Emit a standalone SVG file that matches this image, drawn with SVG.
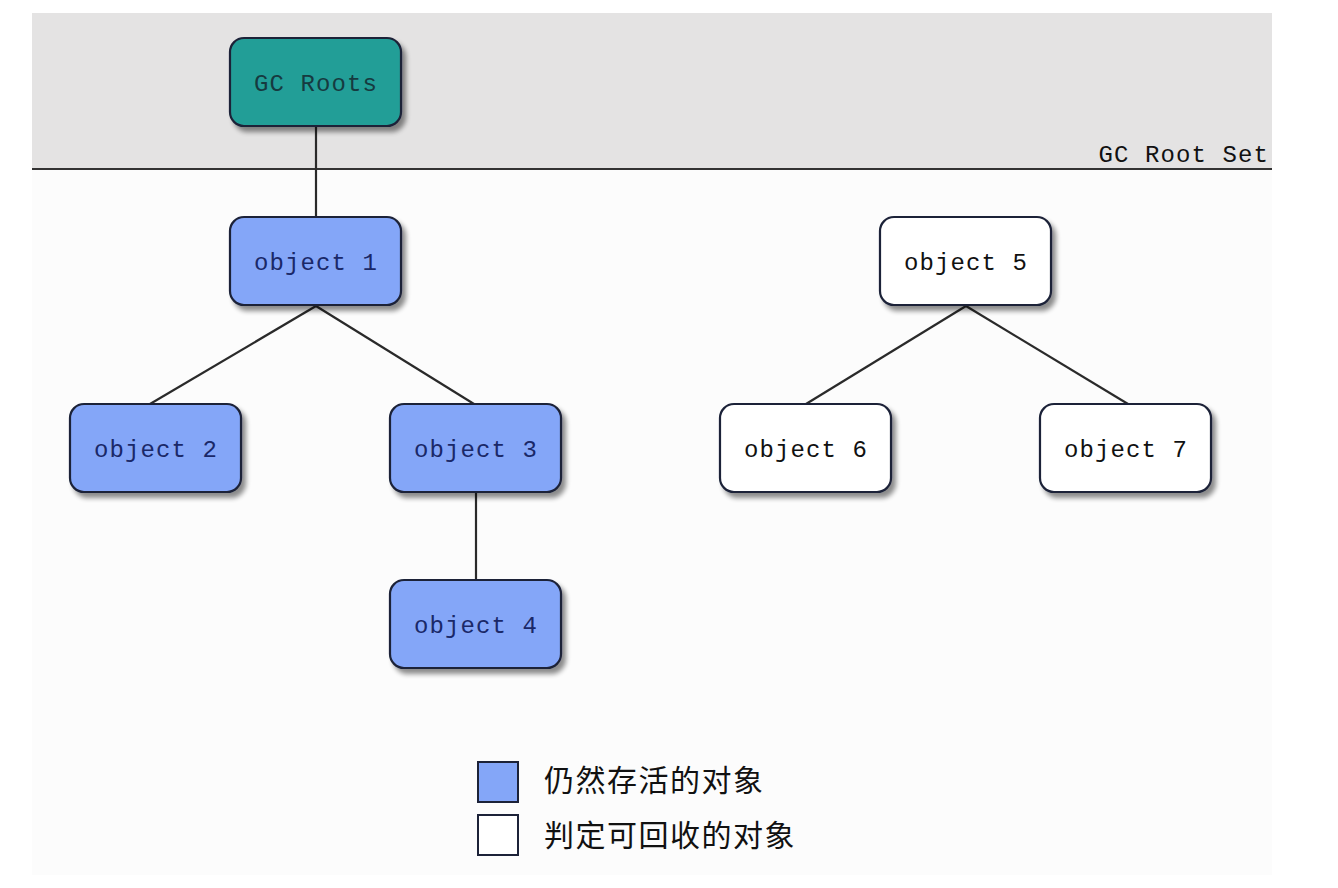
<svg xmlns="http://www.w3.org/2000/svg" width="1338" height="888" viewBox="0 0 1338 888">
<defs>
<filter id="sh" x="-10%" y="-10%" width="130%" height="140%">
<feGaussianBlur in="SourceAlpha" stdDeviation="2.5"/>
<feOffset dx="4" dy="5" result="b"/>
<feComponentTransfer><feFuncA type="linear" slope="0.45"/></feComponentTransfer>
<feMerge><feMergeNode/><feMergeNode in="SourceGraphic"/></feMerge>
</filter>
</defs>
<style>
.box{stroke:#1c2238;stroke-width:2.2;filter:url(#sh)}
.live{fill:#84a6f8}
.dead{fill:#ffffff}
.root{fill:#249e97}
.lbl{font-family:"Liberation Mono","DejaVu Sans Mono",monospace;font-size:24px;letter-spacing:1.1px;text-anchor:middle}
.navy{fill:#1a2868}
.blk{fill:#111111}
.conn line{stroke:#2a2a2a;stroke-width:2.2}
.leg{font-family:"Noto Sans CJK SC",sans-serif;font-size:30px;letter-spacing:1.5px;fill:#111}
</style>
<rect x="0" y="0" width="1338" height="888" fill="#ffffff"/>
<rect x="32" y="13" width="1240" height="862" fill="#fcfcfc"/>
<rect x="32" y="13" width="1240" height="155" fill="#e4e3e3"/>
<line x1="32" y1="169" x2="1272" y2="169" stroke="#333" stroke-width="2.2"/>
<text x="1269" y="162" class="lbl blk" style="text-anchor:end">GC Root Set</text>
<g id="connectors" class="conn">
<line x1="316" y1="127" x2="316" y2="217"/>
<line x1="316" y1="306" x2="150" y2="404"/>
<line x1="316" y1="306" x2="474" y2="404"/>
<line x1="476" y1="493" x2="476" y2="580"/>
<line x1="966" y1="306" x2="806" y2="404"/>
<line x1="966" y1="306" x2="1128" y2="404"/>
</g>
<g id="gcroots"><rect class="box root" x="230" y="38" width="171" height="88" rx="14"/><text class="lbl" fill="#163a40" x="316" y="91">GC Roots</text></g>
<g id="object1"><rect class="box live" x="230" y="217" width="171" height="88" rx="14"/><text class="lbl navy" x="316" y="270">object 1</text></g>
<g id="object2"><rect class="box live" x="70" y="404" width="171" height="88" rx="14"/><text class="lbl navy" x="156" y="457">object 2</text></g>
<g id="object3"><rect class="box live" x="390" y="404" width="171" height="88" rx="14"/><text class="lbl navy" x="476" y="457">object 3</text></g>
<g id="object4"><rect class="box live" x="390" y="580" width="171" height="88" rx="14"/><text class="lbl navy" x="476" y="633">object 4</text></g>
<g id="object5"><rect class="box dead" x="880" y="217" width="171" height="88" rx="14"/><text class="lbl blk" x="966" y="270">object 5</text></g>
<g id="object6"><rect class="box dead" x="720" y="404" width="171" height="88" rx="14"/><text class="lbl blk" x="806" y="457">object 6</text></g>
<g id="object7"><rect class="box dead" x="1040" y="404" width="171" height="88" rx="14"/><text class="lbl blk" x="1126" y="457">object 7</text></g>
<g id="legend">
<rect x="478" y="762" width="40" height="40" fill="#84a6f8" stroke="#1c2238" stroke-width="2"/>
<text class="leg" x="544" y="791">仍然存活的对象</text>
<rect x="478" y="815" width="40" height="40" fill="#ffffff" stroke="#1c2238" stroke-width="2"/>
<text class="leg" x="544" y="846">判定可回收的对象</text>
</g>
</svg>
